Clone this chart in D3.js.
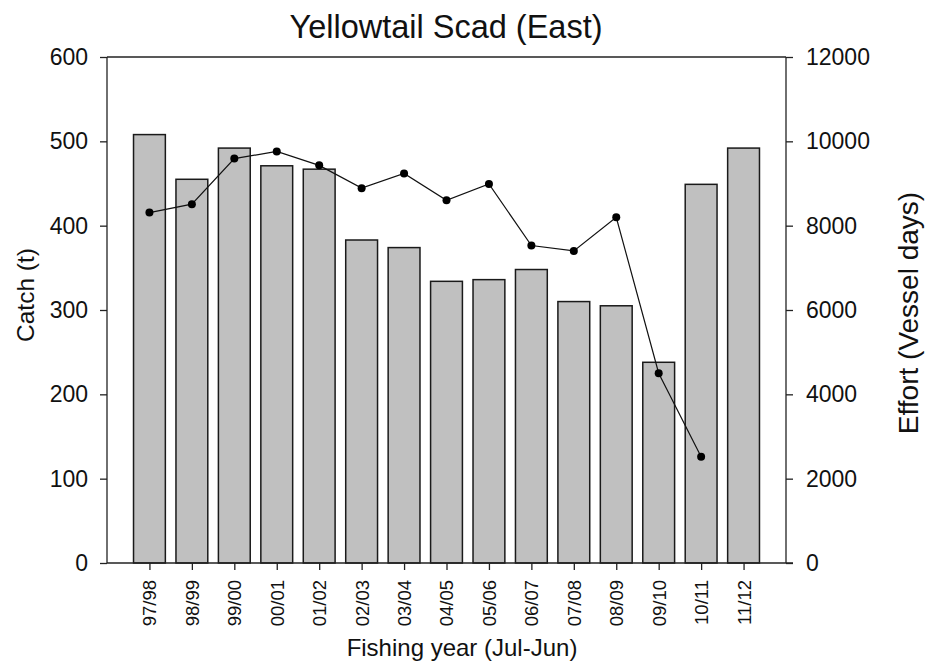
<!DOCTYPE html>
<html>
<head>
<meta charset="utf-8">
<script src="https://cdn.jsdelivr.net/npm/d3@7"></script>
<style>
  body { margin: 0; background: #fff; }
  svg { display: block; font-family: "Liberation Sans", Arial, sans-serif; }
</style>
</head>
<body>
<svg id="chart" width="926" height="670"></svg>
<script>
const years = ["97/98","98/99","99/00","00/01","01/02","02/03","03/04","04/05","05/06","06/07","07/08","08/09","09/10","10/11","11/12"];
const catchT = [508,455,492,471,467,383,374,334,336,348,310,305,238,449,492];
const effortDays = [8310,8510,9590,9760,9430,8890,9240,8600,8990,7530,7400,8200,4500,2520,null];
const catchTicks = [0,100,200,300,400,500,600];
const effortTicks = [0,2000,4000,6000,8000,10000,12000];

const svg = d3.select("#chart");
const L = 107, R = 786, T = 57, B = 563;

const x = d3.scalePoint().domain(years).range([L, R]).padding(1);
const yL = d3.scaleLinear().domain([0, 600]).range([B, T]);
const yR = d3.scaleLinear().domain([0, 12000]).range([B, T]);
const bw = x.step() * 0.75;

// bars
svg.append("g").selectAll("rect").data(years).join("rect")
  .attr("x", (d) => x(d) - bw / 2)
  .attr("y", (d, i) => yL(catchT[i]))
  .attr("width", bw)
  .attr("height", (d, i) => B - yL(catchT[i]))
  .attr("fill", "#c0c0c0")
  .attr("stroke", "#1a1a1a")
  .attr("stroke-width", 1.5);

// effort line
const pts = years.map((d, i) => ({ k: d, v: effortDays[i] })).filter(p => p.v != null);
svg.append("path")
  .datum(pts)
  .attr("fill", "none")
  .attr("stroke", "#111")
  .attr("stroke-width", 1.2)
  .attr("d", d3.line().x(p => x(p.k)).y(p => yR(p.v)));
svg.append("g").selectAll("circle").data(pts).join("circle")
  .attr("cx", p => x(p.k)).attr("cy", p => yR(p.v)).attr("r", 4).attr("fill", "#000");

// axes
const axL = svg.append("g").attr("transform", `translate(${L},0)`)
  .call(d3.axisLeft(yL).tickValues(catchTicks).tickSize(7).tickPadding(12).tickFormat(d3.format("d")));
const axR = svg.append("g").attr("transform", `translate(${R},0)`)
  .call(d3.axisRight(yR).tickValues(effortTicks).tickSize(7).tickPadding(13).tickFormat(d3.format("d")));
const axB = svg.append("g").attr("transform", `translate(0,${B})`)
  .call(d3.axisBottom(x).tickSize(7).tickSizeOuter(0));
[axL, axR].forEach(a => {
  a.select(".domain").attr("d", `M0,${T}V${B}`).attr("stroke", "#222").attr("stroke-width", 1.3);
  a.selectAll(".tick line").attr("stroke", "#222").attr("stroke-width", 1.3);
  a.selectAll(".tick text").attr("font-size", 23).attr("fill", "#111");
});
axB.select(".domain").attr("d", `M${L},0H${R + 7}`).attr("stroke", "#222").attr("stroke-width", 1.3);
axB.selectAll(".tick line").attr("stroke", "#222").attr("stroke-width", 1.3);
axB.selectAll(".tick text")
  .attr("font-size", 18.5).attr("fill", "#111")
  .attr("transform", "rotate(-90)")
  .attr("text-anchor", "end")
  .attr("x", -17).attr("y", 0).attr("dy", "0.35em");

// top frame line
svg.append("line").attr("x1", L).attr("x2", R).attr("y1", T).attr("y2", T)
  .attr("stroke", "#222").attr("stroke-width", 1.3);

// titles
svg.append("text").attr("x", 446).attr("y", 38).attr("text-anchor", "middle")
  .attr("font-size", 32.5).attr("fill", "#111").text("Yellowtail Scad (East)");
svg.append("text").attr("x", 462).attr("y", 656).attr("text-anchor", "middle")
  .attr("font-size", 24).attr("fill", "#111").text("Fishing year (Jul-Jun)");
svg.append("text").attr("transform", "translate(34,295) rotate(-90)").attr("text-anchor", "middle")
  .attr("font-size", 24.5).attr("fill", "#111").text("Catch (t)");
svg.append("text").attr("transform", "translate(918,313) rotate(-90)").attr("text-anchor", "middle")
  .attr("font-size", 28).attr("fill", "#111").text("Effort (Vessel days)");
</script>
</body>
</html>
